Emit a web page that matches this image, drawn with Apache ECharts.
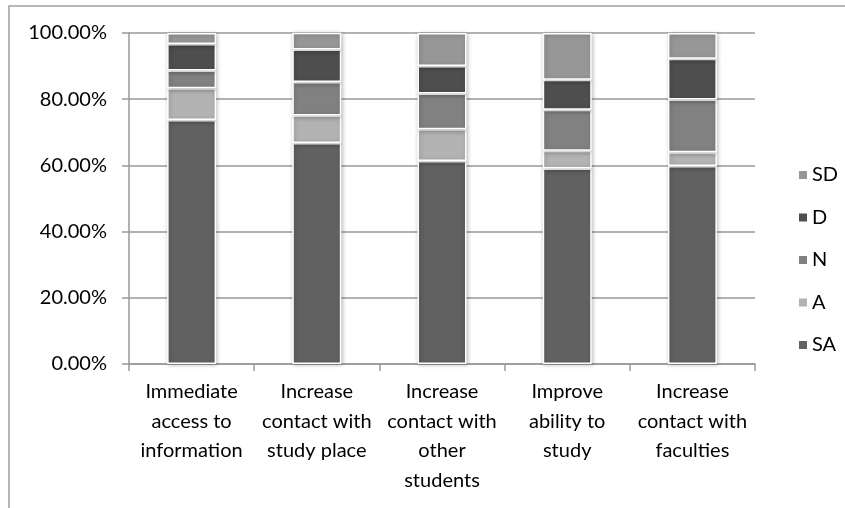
<!DOCTYPE html>
<html>
<head>
<meta charset="utf-8">
<script src="https://cdn.jsdelivr.net/npm/echarts@6/dist/echarts.min.js"></script>
<style>
  html, body { margin: 0; padding: 0; background: #fff; }
  #chart { width: 845px; height: 508px; }
</style>
</head>
<body>
<div id="chart"></div>
<script>
// Survey items on the category axis
const categories = [
  'Immediate\naccess to\ninformation',
  'Increase\ncontact with\nstudy place',
  'Increase\ncontact with\nother\nstudents',
  'Improve\nability to\nstudy',
  'Increase\ncontact with\nfaculties'
];

// Share of responses (percent) per answer level, stacked bottom to top
const SA = [73.7, 66.8, 61.3, 59.1, 59.8];
const A  = [9.6, 8.3, 9.6, 5.3, 4.2];
const N  = [5.4, 10.1, 10.8, 12.4, 15.9];
const D  = [8.0, 9.8, 8.3, 9.1, 12.3];
const SD = [3.3, 5.1, 10.0, 14.1, 7.8];

// Value axis ticks
const yTicks = [0, 20, 40, 60, 80, 100];

const FONT = 'Lato';

const chart = echarts.init(document.getElementById('chart'), null, { renderer: 'canvas' });

function barSeries(name, data, color) {
  return {
    name: name,
    type: 'bar',
    stack: 'total',
    data: data,
    barWidth: 49,
    itemStyle: {
      color: color,
      borderColor: '#ffffff',
      borderWidth: 1.5,
      shadowBlur: 4,
      shadowColor: 'rgba(0,0,0,0.25)',
      shadowOffsetX: 1,
      shadowOffsetY: 1
    },
    emphasis: { disabled: true }
  };
}

chart.setOption({
  animation: false,
  backgroundColor: '#ffffff',
  textStyle: { fontFamily: FONT },
  graphic: [{
    type: 'rect',
    shape: { x: 9, y: 6, width: 1000, height: 700 },
    style: { fill: 'none', stroke: '#a0a0a0', lineWidth: 1.5 },
    silent: true,
    z: -1
  }],
  grid: { left: 129, right: 90, top: 33, bottom: 144 },
  legend: {
    orient: 'vertical',
    left: 792,
    top: 159,
    data: ['SD', 'D', 'N', 'A', 'SA'],
    icon: 'rect',
    itemWidth: 10,
    itemHeight: 10,
    itemGap: 20.5,
    textStyle: { fontFamily: FONT, fontSize: 20, color: '#000', lineHeight: 22, padding: [0, 0, 0, -1] },
    selectedMode: false
  },
  xAxis: {
    type: 'category',
    data: categories,
    axisLine: { lineStyle: { color: '#999999', width: 1.5 } },
    axisTick: { show: true, length: 7, lineStyle: { color: '#999999', width: 1.5 } },
    axisLabel: {
      interval: 0,
      margin: 13,
      fontFamily: FONT,
      fontSize: 20,
      lineHeight: 29.5,
      color: '#000',
      align: 'center'
    }
  },
  yAxis: {
    type: 'value',
    min: yTicks[0],
    max: yTicks[yTicks.length - 1],
    interval: yTicks[1] - yTicks[0],
    axisLine: { show: true, lineStyle: { color: '#999999', width: 1.5 } },
    axisTick: { show: true, length: 7, lineStyle: { color: '#999999', width: 1.5 } },
    axisLabel: {
      margin: 22,
      fontFamily: FONT,
      fontSize: 20,
      color: '#000',
      formatter: v => v.toFixed(2) + '%'
    },
    splitLine: { lineStyle: { color: '#999999', width: 1.5 } }
  },
  series: [
    barSeries('SA', SA, '#616161'),
    barSeries('A', A, '#b3b3b3'),
    barSeries('N', N, '#808180'),
    barSeries('D', D, '#4e4e4e'),
    barSeries('SD', SD, '#979797')
  ]
});
</script>
</body>
</html>
